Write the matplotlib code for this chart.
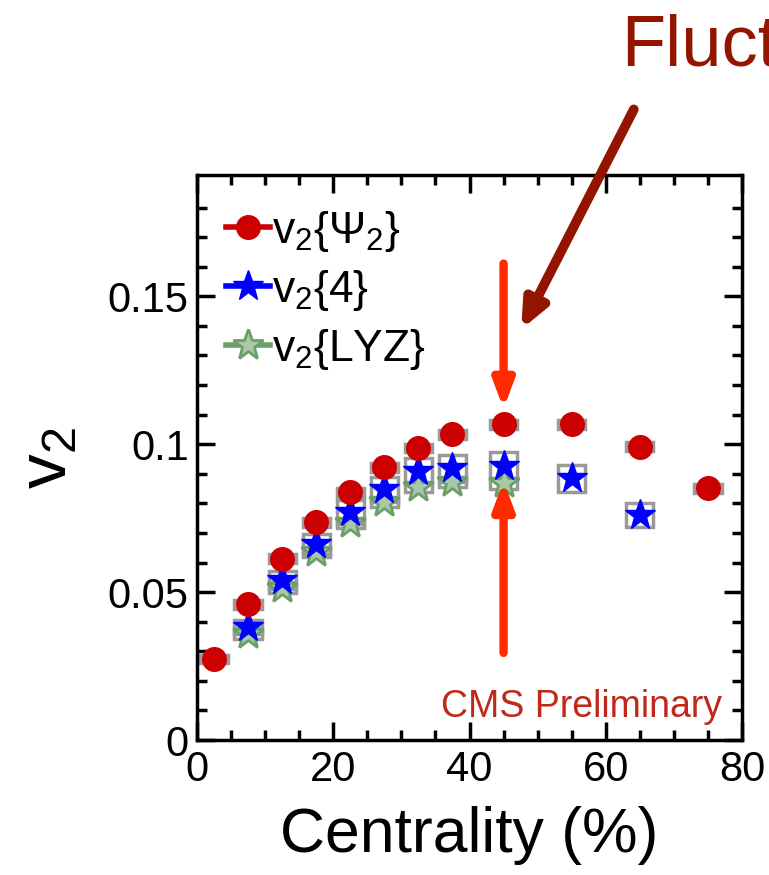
import numpy as np
import matplotlib
matplotlib.use('Agg')
import matplotlib.pyplot as plt
from matplotlib.patches import Rectangle
from matplotlib.lines import Line2D

plt.rcParams['font.family'] = ['Liberation Sans', 'DejaVu Sans']
plt.rcParams['mathtext.fontset'] = 'custom'
plt.rcParams['mathtext.rm'] = 'Liberation Sans'
plt.rcParams['mathtext.it'] = 'Liberation Sans'

# centrality bins (%)
cent_ep = [2.5, 7.5, 12.5, 17.5, 22.5, 27.5, 32.5, 37.5, 45, 55, 65, 75]
v2_ep = [0.0274, 0.0459, 0.0613, 0.0736, 0.0838, 0.0922, 0.0987, 0.1033, 0.1068, 0.1068, 0.0991, 0.0851]
sys_ep = [0.0015] * 12

cent_4 = [7.5, 12.5, 17.5, 22.5, 27.5, 32.5, 37.5, 45, 55, 65]
v2_4 = [0.0382, 0.0542, 0.0663, 0.0770, 0.0847, 0.0910, 0.0919, 0.0926, 0.0885, 0.0760]
sys_4 = [0.0022, 0.0030, 0.0035, 0.0040, 0.0043, 0.0045, 0.0046, 0.0047, 0.0045, 0.0040]

cent_lyz = [7.5, 12.5, 17.5, 22.5, 27.5, 32.5, 37.5, 45]
v2_lyz = [0.0360, 0.0515, 0.0636, 0.0733, 0.0804, 0.0855, 0.0872, 0.0868]
sys_lyz = [0.0018] * 8

fig = plt.figure(figsize=(7.69, 8.75), dpi=100)
ax = fig.add_axes([197/769, 1-740/875, 545/769, 565/875])

red = '#cc0000'
blue = '#0000ff'
green = '#6a9f6a'
gray = '#9a9a9a'

def boxes(xs, ys, es, z):
    for x, y, e in zip(xs, ys, es):
        ax.add_patch(Rectangle((x-2.0, y-e), 4.0, 2*e, fill=False, edgecolor=gray, lw=2.5, zorder=z))

boxes(cent_ep, v2_ep, sys_ep, 2)
boxes(cent_4, v2_4, sys_4, 2)
boxes(cent_lyz, v2_lyz, sys_lyz, 2)

ax.plot(cent_lyz, v2_lyz, ls='none', marker='*', ms=23, mfc='#a8c8a8', mec=green, mew=2, zorder=3)
ax.plot(cent_4, v2_4, ls='none', marker='*', ms=23, mfc=blue, mec=blue, zorder=4)
ax.plot(cent_ep, v2_ep, ls='none', marker='o', ms=17, mfc=red, mec=red, zorder=5)

ax.set_xlim(0, 80)
ax.set_ylim(0, 0.191)
ax.set_xticks([0, 20, 40, 60, 80])
ax.set_xticks(np.arange(0, 81, 5), minor=True)
ax.set_yticks([0, 0.05, 0.1, 0.15])
ax.set_yticklabels(['0', '0.05', '0.1', '0.15'])
ax.set_yticks(np.arange(0, 0.19, 0.01), minor=True)
ax.tick_params(which='both', direction='in', top=True, right=True, width=2.5, labelsize=30)
ax.tick_params(axis='y', pad=6)
ax.tick_params(axis='x', pad=7)
ax.tick_params(which='major', length=13)
ax.tick_params(which='minor', length=7)
for s in ax.spines.values():
    s.set_linewidth(2.5)

ax.set_xlabel('Centrality (%)', fontsize=45, labelpad=12)
ax.set_ylabel('v$_2$', fontsize=50, labelpad=20)

handles = [
    Line2D([], [], color=red, lw=4, marker='o', ms=17, mfc=red, mec=red),
    Line2D([], [], color=blue, lw=4, marker='*', ms=23, mfc=blue, mec=blue),
    Line2D([], [], color=green, lw=4, marker='*', ms=23, mfc='#a8c8a8', mec=green, mew=2),
]
labels = ['v$_2${$\\Psi_2$}', 'v$_2${4}', 'v$_2${LYZ}']
ax.legend(handles, labels, loc='upper left', frameon=False, fontsize=32,
          handlelength=1.0, handletextpad=0.05, borderaxespad=0.1, labelspacing=0.32,
          bbox_to_anchor=(0.012, 0.98))

ax.text(0.963, 0.04, 'CMS Preliminary', transform=ax.transAxes, ha='right', va='baseline',
        color='#c0281a', fontsize=27)

# arrows around the 40-50% bin
ax.annotate('', xy=(45, 0.0885), xytext=(45, 0.0285),
            arrowprops=dict(arrowstyle='-|>,head_length=1.6,head_width=0.6', color='#ff2a00', lw=6))
ax.annotate('', xy=(45, 0.111), xytext=(45, 0.162),
            arrowprops=dict(arrowstyle='-|>,head_length=1.6,head_width=0.6', color='#ff2a00', lw=6))
ax.annotate('', xy=(47.4, 0.138), xytext=(64.3, 0.214), annotation_clip=False,
            arrowprops=dict(arrowstyle='-|>,head_length=1.6,head_width=0.7', color='#931500', lw=7))

fig.text(621/769, 1-65/875, 'Fluctuations', color='#931500', fontsize=52, ha='left', va='baseline')

fig.savefig('out.png', dpi=100)
